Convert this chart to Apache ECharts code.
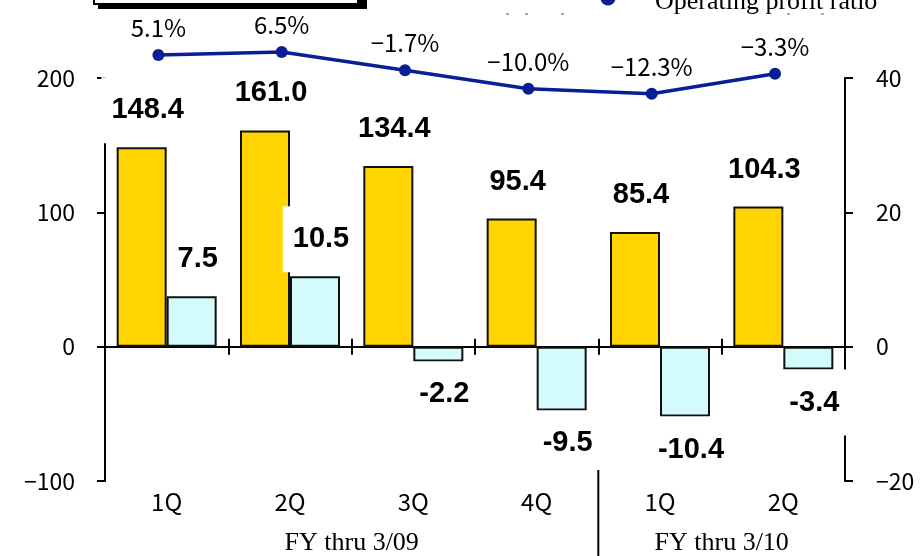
<!DOCTYPE html>
<html>
<head>
<meta charset="utf-8">
<script src="https://cdn.jsdelivr.net/npm/echarts@6/dist/echarts.min.js"></script>
<style>
  html, body { margin: 0; padding: 0; background: #fff; }
  #chart { width: 923px; height: 556px; }
</style>
</head>
<body>
<div id="chart"></div>
<script>
// Quarterly results, FY thru 3/09 and FY thru 3/10
const quarters = ['1Q', '2Q', '3Q', '4Q', '1Q', '2Q'];
const netSales = [148.4, 161.0, 134.4, 95.4, 85.4, 104.3];
const operatingProfit = [7.5, 10.5, -2.2, -9.5, -10.4, -3.4];
const profitRatio = [5.1, 6.5, -1.7, -10.0, -12.3, -3.3];
const fiscalYears = ['FY thru 3/09', 'FY thru 3/10'];

const sansJP = '"Noto Sans CJK JP", "Noto Sans", sans-serif';
const boldSans = '"Liberation Sans", Arial, sans-serif';
const serif = '"Liberation Serif", "Times New Roman", serif';
const minus = s => String(s).replace('-', '\u2212');

// White boxed value labels above/below the bars
const valueLabel = {
  show: true,
  fontFamily: boldSans,
  fontWeight: 'bold',
  fontSize: 29,
  lineHeight: 28,
  color: '#000',
  backgroundColor: '#fff',
  padding: [19, 10],
  offset: [6, 0],
  formatter: p => p.value.toFixed(1)
};

const barData = (values) => values.map(v => ({
  value: v,
  label: { position: v < 0 ? 'bottom' : 'top', distance: v < 0 ? 0 : 4 }
}));

const chart = echarts.init(document.getElementById('chart'), null, { renderer: 'canvas' });

const axisLineStyle = { color: '#000', width: 2 };
const tickLabel = { fontFamily: sansJP, fontSize: 23, color: '#000' };

chart.setOption({
  animation: false,
  backgroundColor: '#fff',
  grid: [
    { left: 105, right: 78, top: 78, bottom: 75 },
    { left: 96.7, right: 86.3, top: 33, height: 78 }
  ],
  xAxis: [
    {
      type: 'category', gridIndex: 0, data: quarters,
      axisLine: { show: false, onZero: false },
      axisTick: { show: false },
      axisLabel: Object.assign({ margin: 9, fontSize: 24 }, { fontFamily: sansJP, color: '#000' })
    },
    {
      type: 'category', gridIndex: 0, data: quarters,
      axisLine: { show: true, onZero: true, lineStyle: axisLineStyle },
      axisTick: { show: true, length: 8, inside: false, lineStyle: axisLineStyle },
      axisLabel: { show: false }
    },
    {
      type: 'category', gridIndex: 0, data: quarters,
      axisLine: { show: true, onZero: true, lineStyle: axisLineStyle },
      axisTick: { show: true, length: 8, inside: true, lineStyle: axisLineStyle },
      axisLabel: { show: false }
    },
    {
      type: 'category', gridIndex: 1, data: quarters, show: false
    }
  ],
  yAxis: [
    {
      type: 'value', gridIndex: 0, min: -100, max: 200, interval: 100,
      axisLine: { show: true, lineStyle: axisLineStyle },
      axisTick: { show: true, length: 8, lineStyle: axisLineStyle },
      splitLine: { show: false },
      axisLabel: Object.assign({ margin: 30, formatter: minus }, tickLabel)
    },
    {
      type: 'value', gridIndex: 0, min: -20, max: 40, interval: 20, position: 'right',
      axisLine: { show: true, lineStyle: axisLineStyle },
      axisTick: { show: true, length: 8, lineStyle: axisLineStyle },
      splitLine: { show: false },
      axisLabel: Object.assign({ margin: 31, formatter: minus }, tickLabel)
    },
    {
      type: 'value', gridIndex: 1, min: -20, max: 15, show: false
    }
  ],
  series: [
    {
      name: 'Net sales', type: 'bar', xAxisIndex: 0, yAxisIndex: 0,
      data: barData(netSales), barWidth: 50, barGap: '0%',
      itemStyle: { color: '#FFD400', borderColor: '#111', borderWidth: 2 },
      label: valueLabel
    },
    {
      name: 'Operating profit', type: 'bar', xAxisIndex: 0, yAxisIndex: 1,
      data: barData(operatingProfit), barWidth: 50, barGap: '0%',
      itemStyle: { color: '#D4FBFC', borderColor: '#111', borderWidth: 2 },
      label: valueLabel
    },
    {
      name: 'Operating profit ratio', type: 'line', xAxisIndex: 3, yAxisIndex: 2,
      data: profitRatio, z: 5,
      symbol: 'circle', symbolSize: 12,
      lineStyle: { color: '#0A1E96', width: 3.5 },
      itemStyle: { color: '#0A1E96' },
      label: {
        show: true, position: 'top', distance: 9,
        fontFamily: sansJP, fontSize: 24, color: '#000',
        formatter: p => minus(p.value.toFixed(1)) + '%'
      }
    }
  ],
  graphic: [
    // fiscal year group labels and divider
    { type: 'text', x: 351.7, y: 543, z: 10,
      style: { text: fiscalYears[0], font: '26px ' + serif, fill: '#000', textAlign: 'center', textVerticalAlign: 'middle' } },
    { type: 'text', x: 721.7, y: 543, z: 10,
      style: { text: fiscalYears[1], font: '26px ' + serif, fill: '#000', textAlign: 'center', textVerticalAlign: 'middle' } },
    { type: 'line', z: 10, shape: { x1: 598.3, y1: 470, x2: 598.3, y2: 556 }, style: { stroke: '#000', lineWidth: 2 } },
    // legend boxes at the top edge
    { type: 'rect', z: 10, shape: { x: 98, y: -30, width: 269, height: 39 }, style: { fill: '#000' } },
    { type: 'rect', z: 11, shape: { x: 94, y: -30, width: 264, height: 34 }, style: { fill: '#fff', stroke: '#000', lineWidth: 2 } },
    { type: 'circle', z: 10, shape: { cx: 608, cy: -2, r: 7.5 }, style: { fill: '#0A1E96' } },
    { type: 'text', x: 655, y: 2, z: 10,
      style: { text: 'Operating profit ratio', font: '26px ' + serif, fill: '#000', textAlign: 'left', textVerticalAlign: 'middle' } },
    { type: 'rect', z: 9, shape: { x: 506, y: 13, width: 3, height: 2 }, style: { fill: '#aaa' } },
    { type: 'rect', z: 9, shape: { x: 525, y: 13, width: 3, height: 2 }, style: { fill: '#aaa' } },
    { type: 'rect', z: 9, shape: { x: 561, y: 13, width: 3, height: 2 }, style: { fill: '#aaa' } },
    { type: 'rect', z: 9, shape: { x: 787, y: 13, width: 3, height: 2 }, style: { fill: '#aaa' } },
    { type: 'rect', z: 9, shape: { x: 821, y: 13, width: 3, height: 2 }, style: { fill: '#aaa' } }
  ]
});
</script>
</body>
</html>
